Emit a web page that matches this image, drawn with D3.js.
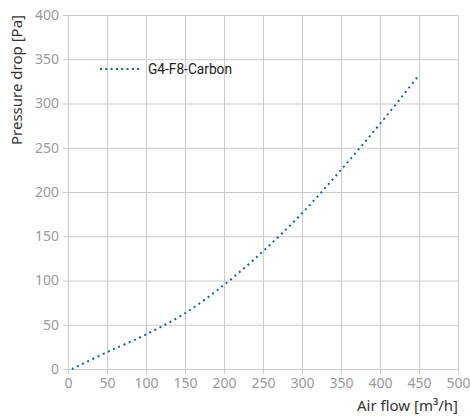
<!DOCTYPE html>
<html>
<head>
<meta charset="utf-8">
<script src="https://cdn.jsdelivr.net/npm/d3@7"></script>
<style>
  html, body { margin: 0; padding: 0; background: #fff; }
  svg { display: block; }
</style>
</head>
<body>
<svg id="chart" width="470" height="420"></svg>
<script>
const seriesName = "G4-F8-Carbon";
const airFlow = [5, 50, 100, 150, 200, 250, 300, 350, 400, 450];
const pressureDrop = [0, 19, 39, 63, 95, 133, 176, 225, 277, 332];
const xTicks = [0, 50, 100, 150, 200, 250, 300, 350, 400, 450, 500];
const yTicks = [0, 50, 100, 150, 200, 250, 300, 350, 400];
const xLabel = "Air flow [m³/h]";
const yLabel = "Pressure drop [Pa]";

const W = 470, H = 420;
const m = { left: 68, right: 12, top: 15, bottom: 51 };
const svg = d3.select("#chart");
const x = d3.scaleLinear().domain([0, 500]).range([m.left, W - m.right]);
const y = d3.scaleLinear().domain([0, 400]).range([H - m.bottom, m.top]);

const gridColor = "#cbcbcb";
const tickColor = "#9a9a9a";
const font = "'Noto Sans', sans-serif";

// grid
const gx = svg.append("g").attr("transform", `translate(0,${H - m.bottom})`)
  .call(d3.axisBottom(x).tickValues(xTicks).tickSize(-(H - m.top - m.bottom)).tickSizeOuter(0).tickPadding(9));
const gy = svg.append("g").attr("transform", `translate(${m.left},0)`)
  .call(d3.axisLeft(y).tickValues(yTicks).tickSize(-(W - m.left - m.right)).tickSizeOuter(0).tickPadding(9));
[gx, gy].forEach(g => {
  g.select(".domain").remove();
  g.selectAll(".tick line").attr("stroke", gridColor).attr("stroke-width", 1);
  g.selectAll(".tick text").attr("fill", tickColor).attr("font-family", font).attr("font-size", 14);
});
// small outward tick marks
gx.selectAll(".tick").append("line").attr("y1", 0).attr("y2", 5).attr("stroke", gridColor);
gy.selectAll(".tick").append("line").attr("x1", 0).attr("x2", -5).attr("stroke", gridColor);

// axis titles
svg.append("text").attr("x", W - m.right).attr("y", 411)
  .attr("text-anchor", "end").attr("font-family", font).attr("font-size", 15)
  .attr("fill", "#333").text(xLabel);
svg.append("text").attr("transform", `translate(22,${m.top}) rotate(-90)`)
  .attr("text-anchor", "end").attr("font-family", font).attr("font-size", 15)
  .attr("fill", "#333").text(yLabel);

// series
const data = airFlow.map((d, i) => ({ x: d, y: pressureDrop[i] }));
const line = d3.line().x(d => x(d.x)).y(d => y(d.y)).curve(d3.curveCatmullRom.alpha(0.5));
const blue = "#1d5bb0";
svg.append("path").datum(data).attr("d", line)
  .attr("fill", "none").attr("stroke", blue).attr("stroke-width", 2)
  .attr("stroke-dasharray", "2,3.7");

// legend
svg.append("line").attr("x1", 100).attr("x2", 141).attr("y1", 69).attr("y2", 69)
  .attr("stroke", blue).attr("stroke-width", 2).attr("stroke-dasharray", "2,3.3");
svg.append("text").attr("x", 148).attr("y", 74)
  .attr("font-family", "'Roboto', sans-serif").attr("font-size", 15)
  .attr("textLength", 84).attr("lengthAdjust", "spacingAndGlyphs")
  .attr("fill", "#222").text(seriesName);
</script>
</body>
</html>
